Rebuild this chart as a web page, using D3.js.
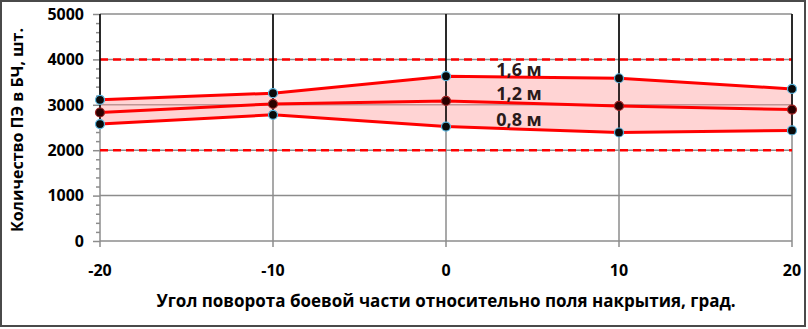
<!DOCTYPE html>
<html>
<head>
<meta charset="utf-8">
<script src="https://cdn.jsdelivr.net/npm/d3@7"></script>
<style>
  body { margin: 0; background: #fff; }
  svg { display: block; font-family: "Open Sans", "Noto Sans", sans-serif; font-weight: bold; }
</style>
</head>
<body>
<svg width="808" height="329"></svg>
<script>
// angles and counts
var angles = [-20, -10, 0, 10, 20];
var series16 = [3110, 3255, 3630, 3585, 3350];
var series12 = [2830, 3020, 3085, 2975, 2895];
var series08 = [2575, 2780, 2520, 2390, 2435];
var seriesNames = ["1,6 м", "1,2 м", "0,8 м"];
var limits = [4000, 2000];
var yTicks = [0, 1000, 2000, 3000, 4000, 5000];
var xTicks = [-20, -10, 0, 10, 20];

var svg = d3.select("svg"),
    width = +svg.attr("width"),
    height = +svg.attr("height");

var x = d3.scaleLinear().domain([-20, 20]).range([100, 792]);
var y = d3.scaleLinear().domain([0, 5000]).range([241, 14]);

// frame
svg.append("rect")
    .attr("x", 1).attr("y", 1)
    .attr("width", 804).attr("height", 325)
    .attr("fill", "#fff")
    .attr("stroke", "#4a4a4a")
    .attr("stroke-width", 2);

// grid
svg.append("g").selectAll("line")
    .data(yTicks)
    .enter().append("line")
      .attr("x1", x(-20)).attr("x2", x(20))
      .attr("y1", function(d) { return y(d); })
      .attr("y2", function(d) { return y(d); })
      .attr("stroke", "#8c8c8c")
      .attr("stroke-width", 1.5);

svg.append("g").selectAll("line")
    .data(xTicks)
    .enter().append("line")
      .attr("x1", function(d) { return x(d); })
      .attr("x2", function(d) { return x(d); })
      .attr("y1", y(5000)).attr("y2", y(0) + 6)
      .attr("stroke", "#8c8c8c")
      .attr("stroke-width", 1.5);

// y axis ticks (major + minor)
var yAxis = d3.axisLeft(y).tickValues(d3.range(0, 5001, 200)).tickSize(0).tickFormat("");
var ya = svg.append("g").attr("transform", "translate(" + x(-20) + ",0)").call(yAxis);
ya.select(".domain").remove();
ya.selectAll(".tick line")
    .attr("x2", function(d) { return d % 1000 === 0 ? -7 : -4; })
    .attr("stroke", "#8c8c8c")
    .attr("stroke-width", 1.5);

svg.append("g").selectAll("text")
    .data(yTicks)
    .enter().append("text")
      .attr("x", 84)
      .attr("y", function(d) { return y(d); })
      .attr("dy", "0.36em")
      .attr("text-anchor", "end")
      .attr("font-size", 16)
      .attr("fill", "#000")
      .text(function(d) { return d; });

svg.append("g").selectAll("text")
    .data(xTicks)
    .enter().append("text")
      .attr("x", function(d) { return x(d); })
      .attr("y", 276)
      .attr("text-anchor", "middle")
      .attr("font-size", 16)
      .attr("fill", "#000")
      .text(function(d) { return d; });

// pink band between 0,8 and 1,6
var pts = angles.map(function(a, i) { return { a: a, hi: series16[i], mid: series12[i], lo: series08[i] }; });

svg.append("path")
    .datum(pts)
    .attr("fill", "#ff9f9f")
    .attr("fill-opacity", 0.45)
    .attr("d", d3.area()
      .x(function(d) { return x(d.a); })
      .y0(function(d) { return y(d.lo); })
      .y1(function(d) { return y(d.hi); }));

// red dashed limits
svg.append("g").selectAll("line")
    .data(limits)
    .enter().append("line")
      .attr("x1", x(-20)).attr("x2", x(20))
      .attr("y1", function(d) { return y(d); })
      .attr("y2", function(d) { return y(d); })
      .attr("stroke", "#ff0000")
      .attr("stroke-width", 2.5)
      .attr("stroke-dasharray", "8,5");

// black lines from top down to lowest point
svg.append("g").selectAll("line")
    .data(pts)
    .enter().append("line")
      .attr("x1", function(d) { return x(d.a); })
      .attr("x2", function(d) { return x(d.a); })
      .attr("y1", y(5000))
      .attr("y2", function(d) { return y(d.lo); })
      .attr("stroke", "#000")
      .attr("stroke-width", 1.5);

var line = d3.line()
    .x(function(d) { return x(d[0]); })
    .y(function(d) { return y(d[1]); });

var allSeries = [series16, series12, series08];
allSeries.forEach(function(s, k) {
  var data = angles.map(function(a, i) { return [a, s[i]]; });
  svg.append("path")
      .datum(data)
      .attr("fill", "none")
      .attr("stroke", "#ff0000")
      .attr("stroke-width", 3)
      .attr("d", line);
  svg.append("g").selectAll("circle")
      .data(data)
      .enter().append("circle")
        .attr("cx", function(d) { return x(d[0]); })
        .attr("cy", function(d) { return y(d[1]); })
        .attr("r", 4.5)
        .attr("fill", k === 1 ? "#2a0000" : "#0a0a0a")
        .attr("stroke", k === 1 ? "#a02020" : "#5ab4dc")
        .attr("stroke-width", 1.2);
});

// series labels
var labelY = [70, 94, 120];
svg.append("g").selectAll("text")
    .data(seriesNames)
    .enter().append("text")
      .attr("x", 519)
      .attr("y", function(d, i) { return labelY[i]; })
      .attr("dy", "0.36em")
      .attr("text-anchor", "middle")
      .attr("font-size", 18)
      .attr("fill", "#2a1a1a")
      .text(function(d) { return d; });

// axis titles
svg.append("text")
    .attr("x", 446).attr("y", 307)
    .attr("text-anchor", "middle")
    .attr("font-size", 17)
    .attr("fill", "#000")
    .text("Угол поворота боевой части относительно поля накрытия, град.");

svg.append("text")
    .attr("transform", "translate(23,130) rotate(-90)")
    .attr("text-anchor", "middle")
    .attr("font-size", 16)
    .attr("fill", "#000")
    .text("Количество ПЭ в БЧ, шт.");
</script>
</body>
</html>
